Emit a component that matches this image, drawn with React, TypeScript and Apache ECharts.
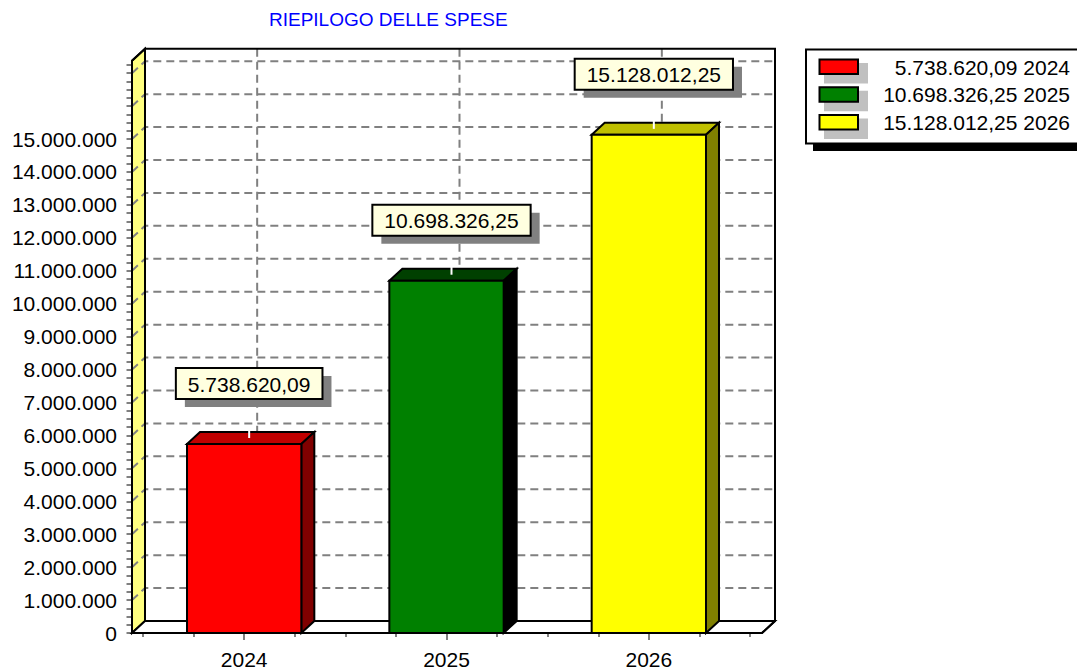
import React, { useEffect, useRef } from "react";
import * as echarts from "echarts";

const title = "RIEPILOGO DELLE SPESE";
const categories = ["2024", "2025", "2026"];
const values = [5738620.09, 10698326.25, 15128012.25];
const yLabelValues = [0, 1000000, 2000000, 3000000, 4000000, 5000000, 6000000, 7000000, 8000000, 9000000, 10000000, 11000000, 12000000, 13000000, 14000000, 15000000];
const yTickValues = [0, 1000000, 2000000, 3000000, 4000000, 5000000, 6000000, 7000000, 8000000, 9000000, 10000000, 11000000, 12000000, 13000000, 14000000, 15000000, 16000000, 17000000];
const yMax = 17380000;

const frontColors = ["#FF0000", "#008000", "#FFFF00"];
const topColors = ["#C00000", "#004000", "#C0C000"];
const sideColors = ["#800000", "#000000", "#808000"];

const FONT = '"Liberation Sans", Arial, sans-serif';
const DX = 13;
const DY = 12;

function fmtIt(v: number, dec: number): string {
  const fixed = v.toFixed(dec);
  const parts = fixed.split(".");
  const int = parts[0].replace(/\B(?=(\d{3})+(?!\d))/g, ".");
  return parts[1] ? int + "," + parts[1] : int;
}

function measure(text: string, font: string): number {
  const cv = document.createElement("canvas");
  const ctx = cv.getContext("2d");
  if (!ctx) return text.length * 11;
  ctx.font = font;
  return ctx.measureText(text).width;
}

const yMinorTickValues: number[] = [];
yTickValues.forEach((t) => {
  [0, 250000, 500000, 750000].forEach((o) => {
    if (t + o <= yMax) yMinorTickValues.push(t + o);
  });
});

export default function App() {
  const ref = useRef<HTMLDivElement>(null);
  useEffect(() => {
    if (!ref.current) return;
    const chart = echarts.init(ref.current, null, { renderer: "svg" });
    const dash = { stroke: "#808080", lineWidth: 2, lineDash: [8, 5], fill: null };
    const tickStyle = { color: "#808080", width: 2 };
    const labelFont = "21px " + FONT;

    const frameSeries = {
      type: "custom",
      clip: false,
      z: 1,
      silent: true,
      data: [[0, 0]],
      renderItem: (params: any, api: any) => {
        const cs = params.coordSys;
        const L = cs.x, R = cs.x + cs.width, T = cs.y, B = cs.y + cs.height;
        const fx0 = L - 11, fx1 = R + 12;
        const children: any[] = [];
        children.push({
          type: "polygon",
          shape: { points: [[fx0, T], [fx0 + DX, T - DY], [fx0 + DX, B - DY], [fx0, B]] },
          style: { fill: "#FFFF80", stroke: "#000", lineWidth: 2 },
        });
        children.push({
          type: "polygon",
          shape: { points: [[fx0, B], [fx0 + DX, B - DY], [fx1 + DX, B - DY], [fx1, B]] },
          style: { fill: "#FFFFFF", stroke: "#000", lineWidth: 2 },
        });
        yTickValues.forEach((v) => {
          if (v === 0) return;
          const y = api.coord([0, v])[1];
          children.push({
            type: "polyline",
            shape: { points: [[fx0, y], [fx0 + DX, y - DY], [fx1 + DX, y - DY]] },
            style: dash,
          });
        });
        categories.forEach((_, i) => {
          const x = api.coord([i, 0])[0] + DX;
          children.push({
            type: "line",
            shape: { x1: x, y1: T - DY, x2: x, y2: B - DY },
            style: dash,
          });
        });
        children.push({
          type: "polyline",
          shape: { points: [[fx0 + DX, B - DY], [fx0 + DX, T - DY], [fx1 + DX, T - DY], [fx1 + DX, B - DY], [fx1, B], [fx0, B], [fx0, T], [fx0 + DX, T - DY]] },
          style: { stroke: "#000", lineWidth: 2, fill: null },
        });
        children.push({
          type: "line",
          shape: { x1: fx0 + DX, y1: B - DY, x2: fx1 + DX, y2: B - DY },
          style: { stroke: "#000", lineWidth: 2 },
        });
        return { type: "group", children };
      },
    };

    const barSeries = {
      type: "custom",
      clip: false,
      z: 2,
      data: values.map((v, i) => [i, v]),
      renderItem: (params: any, api: any) => {
        const i = params.dataIndex;
        const c = api.value(0);
        const v = api.value(1);
        const pt = api.coord([c, v]);
        const cx = pt[0], yTop = pt[1];
        const yBot = api.coord([c, 0])[1];
        const bw = api.size([1, 0])[0] * 0.565;
        const x0 = cx - bw / 2, x1 = cx + bw / 2;
        const txt = fmtIt(values[i], 2);
        const lx = cx + 5, ly = yTop - 45;
        const boxW = measure(txt, labelFont) + 24;
        const boxH = 31;
        const bx = lx - boxW / 2, by = ly - boxH;
        return {
          type: "group",
          children: [
            {
              type: "polygon",
              shape: { points: [[x0, yTop], [x0 + DX, yTop - DY], [x1 + DX, yTop - DY], [x1, yTop]] },
              style: { fill: topColors[i], stroke: "#000", lineWidth: 2, lineJoin: "miter" },
            },
            {
              type: "polygon",
              shape: { points: [[x1, yTop], [x1 + DX, yTop - DY], [x1 + DX, yBot - DY], [x1, yBot]] },
              style: { fill: sideColors[i], stroke: "#000", lineWidth: 2 },
            },
            {
              type: "rect",
              shape: { x: x0, y: yTop, width: bw, height: yBot - yTop },
              style: { fill: frontColors[i], stroke: "#000", lineWidth: 2 },
            },
            {
              type: "line",
              shape: { x1: lx, y1: yTop - DY - 3, x2: lx, y2: yTop - DY + 6 },
              style: { stroke: "#FFFFFF", lineWidth: 2 },
            },
            {
              type: "rect",
              shape: { x: bx + 9, y: by + 8, width: boxW, height: boxH },
              style: { fill: "#808080" },
            },
            {
              type: "rect",
              shape: { x: bx, y: by, width: boxW, height: boxH },
              style: { fill: "#FFFFE0", stroke: "#000", lineWidth: 2 },
            },
            {
              type: "text",
              x: lx,
              y: by + boxH / 2 + 0.5,
              style: {
                text: txt, font: labelFont, fill: "#000",
                align: "center", textAlign: "center", verticalAlign: "middle", textVerticalAlign: "middle",
              },
            },
          ],
        };
      },
    };

    const legendEls: any[] = [
      { type: "rect", shape: { x: 813, y: 57, width: 300, height: 94 }, style: { fill: "#000" } },
      { type: "rect", shape: { x: 806, y: 49.5, width: 300, height: 94 }, style: { fill: "#FFFFFF", stroke: "#000", lineWidth: 2 } },
    ];
    values.forEach((v, i) => {
      const oy = i * 27.7;
      legendEls.push({ type: "rect", shape: { x: 824, y: 63 + oy, width: 44, height: 20.5 }, style: { fill: "#C0C0C0" } });
      legendEls.push({ type: "rect", shape: { x: 819.5, y: 59.5 + oy, width: 38.5, height: 14.5 }, style: { fill: frontColors[i], stroke: "#000", lineWidth: 2 } });
      legendEls.push({
        type: "text",
        style: {
          text: fmtIt(v, 2) + " " + categories[i], x: 1070, y: 67 + oy, font: "21px " + FONT, fill: "#000",
          textAlign: "right", align: "right", textVerticalAlign: "middle", verticalAlign: "middle",
        },
      });
    });

    chart.setOption({
      animation: false,
      backgroundColor: "#FFFFFF",
      title: {
        text: title, left: 269, top: 10, padding: 0,
        textStyle: { color: "#0000FF", fontSize: 19, fontWeight: "normal", fontFamily: FONT },
      },
      grid: { left: 143, right: 327, top: 60.7, bottom: 38 },
      xAxis: [
        {
          type: "category", data: categories, position: "bottom", offset: 3,
          axisLine: { show: false },
          axisTick: { show: true, alignWithLabel: true, length: 7, lineStyle: tickStyle },
          axisLabel: { fontSize: 21, color: "#000", fontFamily: FONT, margin: 13 },
          splitLine: { show: false },
        },
        {
          type: "value", min: 0, max: 12, interval: 1, position: "bottom", offset: 3,
          axisLine: { show: false },
          axisTick: { show: true, length: 4, lineStyle: tickStyle },
          axisLabel: { show: false },
          splitLine: { show: false },
        },
      ],
      yAxis: [
        {
          type: "value", min: 0, max: yMax, position: "left", offset: 12,
          axisLine: { show: false },
          axisTick: { show: true, customValues: yTickValues, length: 9, lineStyle: tickStyle },
          axisLabel: {
            customValues: yLabelValues, formatter: (v: number) => fmtIt(v, 0),
            fontSize: 21, color: "#000", fontFamily: FONT, margin: 14,
          },
          splitLine: { show: false },
        },
        {
          type: "value", min: 0, max: yMax, position: "left", offset: 12,
          axisLine: { show: false },
          axisTick: { show: true, customValues: yMinorTickValues, length: 4.5, lineStyle: tickStyle },
          axisLabel: { show: false },
          splitLine: { show: false },
        },
      ],
      graphic: legendEls,
      series: [frameSeries, barSeries],
    } as any);
    return () => chart.dispose();
  }, []);
  return (
    <div
      ref={ref}
      style={{ position: "absolute", left: 0, top: 0, width: 1077, height: 671, background: "#FFFFFF" }}
    />
  );
}
